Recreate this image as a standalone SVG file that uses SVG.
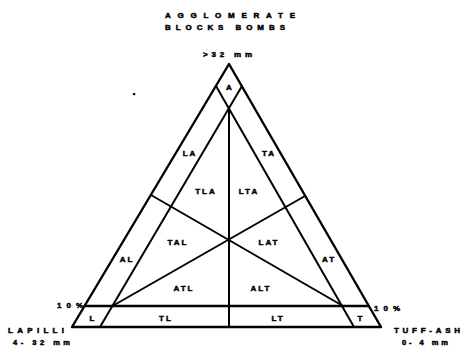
<svg xmlns="http://www.w3.org/2000/svg" width="461" height="347" viewBox="0 0 461 347">
<style>
.ln{stroke:#000;stroke-width:2;fill:none;stroke-linecap:round;stroke-linejoin:round}
.th{stroke-width:2.4}
text{font-family:"Liberation Sans",Arial,sans-serif;font-weight:bold;fill:#000;stroke:#000;stroke-width:0.5}
.lb{font-size:8px;letter-spacing:2px;text-anchor:middle}
.hd{font-size:8px}
.sm{font-size:7.5px}
</style>
<rect width="461" height="347" fill="#fff"/>
<g id="connectors">
<polygon class="ln th" points="229,64 72,327 381,327"/>
<line class="ln th" x1="84.5" y1="306" x2="368.5" y2="306"/>
<line class="ln" x1="100" y1="327" x2="242" y2="86"/>
<line class="ln" x1="354" y1="327" x2="216" y2="86"/>
<line class="ln" x1="229" y1="108" x2="229" y2="327"/>
<line class="ln" x1="112.5" y1="306" x2="305" y2="196"/>
<line class="ln" x1="343" y1="306" x2="151" y2="195"/>
</g>
<g id="titles">
<text class="hd" x="165" y="18" textLength="130" lengthAdjust="spacing">AGGLOMERATE</text>
<text class="hd" x="165" y="30" textLength="120" lengthAdjust="spacing">BLOCKS BOMBS</text>
<text class="hd" x="203" y="57" textLength="49" lengthAdjust="spacing">&gt;32 mm</text>
<text class="hd" x="8" y="333" textLength="56" lengthAdjust="spacing">LAPILLI</text>
<text class="hd sm" x="13" y="345" textLength="57" lengthAdjust="spacing">4- 32 mm</text>
<text class="hd" x="394" y="333" textLength="66" lengthAdjust="spacing">TUFF-ASH</text>
<text class="hd sm" x="402" y="345" textLength="46" lengthAdjust="spacing">0- 4 mm</text>
<text class="hd" x="57" y="308" textLength="26" lengthAdjust="spacing">10%</text>
<text class="hd" x="374" y="311" textLength="26" lengthAdjust="spacing">10%</text>
</g>
<g id="regions">
<text class="lb" x="230" y="90">A</text>
<text class="lb" x="190" y="156">LA</text>
<text class="lb" x="269" y="156">TA</text>
<text class="lb" x="206" y="194">TLA</text>
<text class="lb" x="249" y="194">LTA</text>
<text class="lb" x="178" y="245">TAL</text>
<text class="lb" x="269" y="245">LAT</text>
<text class="lb" x="127" y="262">AL</text>
<text class="lb" x="329" y="262">AT</text>
<text class="lb" x="184" y="291">ATL</text>
<text class="lb" x="261" y="291">ALT</text>
<text class="lb" x="93" y="321">L</text>
<text class="lb" x="361" y="321">T</text>
<text class="lb" x="166" y="321">TL</text>
<text class="lb" x="278" y="321">LT</text>
</g>
<rect x="133" y="93" width="2.2" height="2.2" fill="#000"/>
</svg>
